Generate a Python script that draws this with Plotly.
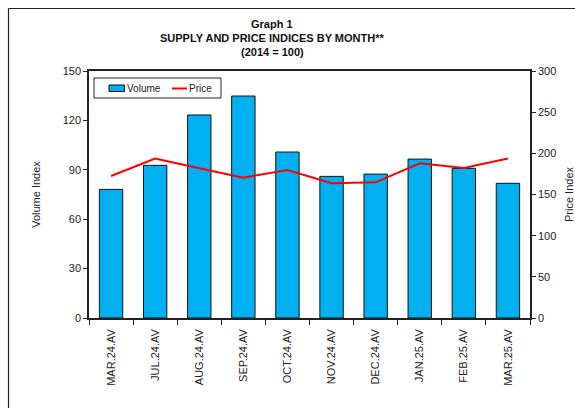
import plotly.graph_objects as go

categories = ["MAR.24.AV", "JUL.24.AV", "AUG.24.AV", "SEP.24.AV", "OCT.24.AV",
              "NOV.24.AV", "DEC.24.AV", "JAN.25.AV", "FEB.25.AV", "MAR.25.AV"]
volume = [78.1, 92.7, 123.3, 134.8, 100.8, 86.0, 87.4, 96.5, 90.9, 81.8]
price = [172.5, 193.6, 181.8, 170.5, 179.8, 163.6, 164.8, 188.0, 182.3, 193.6]
left_ticks = [0, 30, 60, 90, 120, 150]
right_ticks = [0, 50, 100, 150, 200, 250, 300]

W, H = 575, 408
L, R, T, B = 89, 530, 71, 318
pw, ph = R - L, B - T

def px(x):
    return (x - L) / pw

def py(y):
    return (B - y) / ph

FONT = "Liberation Sans, Arial, sans-serif"
BAR_COLOR = "#00B0F0"
LINE_COLOR = "#FF0000"

fig = go.Figure()
fig.add_trace(go.Bar(
    x=categories, y=volume, name="Volume",
    marker=dict(color=BAR_COLOR, line=dict(color="#111111", width=1)),
    yaxis="y",
))
fig.add_trace(go.Scatter(
    x=categories, y=price, name="Price", mode="lines",
    line=dict(color=LINE_COLOR, width=2), yaxis="y2",
))

axis_font = dict(family=FONT, size=11, color="#222222")

fig.update_layout(
    width=W, height=H,
    margin=dict(l=L, r=W - R, t=T, b=H - B, pad=0, autoexpand=False),
    paper_bgcolor="white", plot_bgcolor="white",
    bargap=0.47,
    showlegend=False,
    xaxis=dict(
        type="category", showline=True, linecolor="#222222", linewidth=1.5,
        mirror=True, ticks="outside", ticklen=5, tickcolor="#222222",
        tickson="boundaries", tickangle=-90, tickfont=axis_font,
        ticklabelstandoff=5,
        showgrid=False, zeroline=False, automargin=False,
    ),
    yaxis=dict(
        range=[0, 150], tickvals=left_ticks, showline=True, linecolor="#222222",
        linewidth=1.5, ticks="outside", ticklen=4, tickcolor="#222222",
        tickfont=axis_font, showgrid=False, zeroline=False, automargin=False,
        title=dict(text="Volume Index", font=axis_font, standoff=20),
    ),
    yaxis2=dict(
        range=[0, 300], tickvals=right_ticks, overlaying="y", side="right",
        showline=True, linecolor="#222222", linewidth=1.5, ticks="outside",
        ticklen=4, tickcolor="#222222", tickfont=axis_font, showgrid=False,
        zeroline=False, automargin=False,
        title=dict(text="Price Index", font=axis_font, standoff=15),
    ),
)

title_lines = [("Graph 1", 24), ("SUPPLY AND PRICE INDICES BY MONTH**", 38), ("(2014 = 100)", 52)]
for text, yy in title_lines:
    fig.add_annotation(
        text="<b>%s</b>" % text, xref="paper", yref="paper",
        x=px(272), y=py(yy), xanchor="center", yanchor="middle",
        showarrow=False, font=dict(family=FONT, size=11, color="#111111"),
    )

# custom legend box
fig.add_shape(type="rect", xref="paper", yref="paper",
              x0=px(94), x1=px(221), y0=py(78), y1=py(98),
              fillcolor="white", line=dict(color="#222222", width=1))
fig.add_shape(type="rect", xref="paper", yref="paper",
              x0=px(109), x1=px(124.5), y0=py(85), y1=py(91.5),
              fillcolor=BAR_COLOR, line=dict(color="#111111", width=1))
fig.add_annotation(text="Volume", xref="paper", yref="paper", x=px(125), y=py(88.5),
                   xanchor="left", yanchor="middle", showarrow=False,
                   font=dict(family=FONT, size=10, color="#222222"))
fig.add_shape(type="line", xref="paper", yref="paper",
              x0=px(172), x1=px(187), y0=py(88.5), y1=py(88.5),
              line=dict(color=LINE_COLOR, width=2))
fig.add_annotation(text="Price", xref="paper", yref="paper", x=px(187), y=py(88.5),
                   xanchor="left", yanchor="middle", showarrow=False,
                   font=dict(family=FONT, size=10, color="#222222"))

# outer frame (left and top edges visible)
fig.add_shape(type="line", xref="paper", yref="paper",
              x0=px(8.5), x1=px(8.5), y0=py(8.5), y1=py(420),
              line=dict(color="#222222", width=1.2))
fig.add_shape(type="line", xref="paper", yref="paper",
              x0=px(8.5), x1=px(600), y0=py(8.5), y1=py(8.5),
              line=dict(color="#222222", width=1.2))

fig.write_html(
    "out.html",
    config={"displayModeBar": False},
    post_script="document.body.style.margin='0';document.body.style.overflow='hidden';",
)
